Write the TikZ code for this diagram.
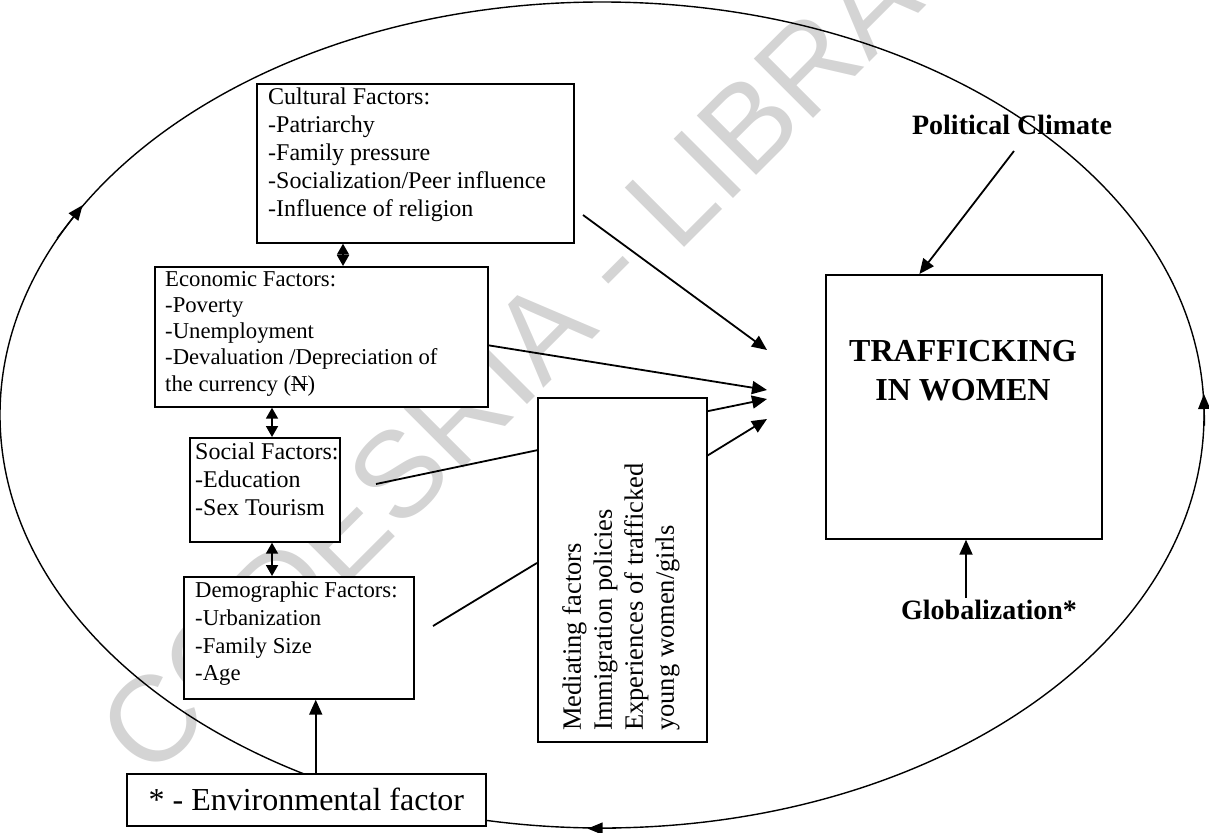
\documentclass[tikz,border=0pt]{standalone}
\usepackage{fontspec}
\setmainfont{Liberation Serif}
\newfontfamily\wmfont{Liberation Sans}
\usetikzlibrary{arrows.meta,calc,shapes.geometric}
\begin{document}
\begin{tikzpicture}[x=1pt,y=-1pt,
  box/.style={draw, line width=1.7pt, fill=white, inner sep=0pt, anchor=north west},
  txt/.style={anchor=north west, inner sep=0pt, align=left, font=\fontsize{22.7}{26.2}\selectfont},
  txtb/.style={txt, font=\fontsize{24}{27.8}\selectfont},
  arr/.style={line width=1.8pt, -{Triangle[length=15pt,width=13pt]}},
  dbl/.style={line width=1.8pt, {Triangle[length=11pt,width=12pt]}-{Triangle[length=11pt,width=12pt]}},
  ln/.style={line width=1.8pt},
  ringhead/.style={line width=1.4pt, -{Triangle[length=15pt,width=12pt]}},
  bold/.style={inner sep=0pt, font=\bfseries\fontsize{28}{32}\selectfont},
  wm/.style={rotate=45, anchor=base west, inner sep=0pt, text=black!17,
    font=\wmfont\fontsize{122}{122}\selectfont}
]
\useasboundingbox (0,0) rectangle (1209,832);

% watermark
\node[wm] (mark) at (150,782) {CODESRIA - LIBRARY};

% surrounding cycle
\node[draw, ellipse, line width=1.4pt, inner sep=0pt,
  minimum width=1204pt, minimum height=826pt] (ring) at (602,415) {};
\draw[ringhead] (ring.162.5) -- (ring.158.5);
\draw[ringhead] (ring.-1) -- (ring.2.2);
\draw[ringhead] (ring.272.5) -- (ring.268);

% factor boxes
\node[box, minimum width=317pt, minimum height=159pt] (cult) at (256,83) {};
\node[txtb] (cultT) at (268,88) {Cultural Factors:\\-Patriarchy\\-Family pressure\\-Socialization/Peer influence\\-Influence of religion};

\node[box, minimum width=333pt, minimum height=140pt] (econ) at (154,266) {};
\node[txt] (econT) at (165,271) {Economic Factors:\\-Poverty\\-Unemployment\\-Devaluation /Depreciation of\\the currency (\rlap{\raisebox{0.25em}{\rule{0.72em}{1.2pt}}}N)};

\node[box, minimum width=150pt, minimum height=104pt] (soc) at (189,437) {};
\node[txtb] (socT) at (195,443) {Social Factors:\\-Education\\-Sex Tourism};

\node[box, minimum width=230pt, minimum height=122pt] (demo) at (183,576) {};
\node[txt, font=\fontsize{22.7}{27.6}\selectfont] (demoT) at (195,582) {Demographic Factors:\\-Urbanization\\-Family Size\\-Age};

\node[box, minimum width=359pt, minimum height=52pt, anchor=north west,
  font=\fontsize{32}{36}\selectfont] (env) at (126,773) {* - Environmental factor};

\node[box, minimum width=169pt, minimum height=344pt] (med) at (537,397) {};
\node[txt, rotate=90, font=\fontsize{26.5}{31}\selectfont] (medT) at (562,731)
  {Mediating factors\\Immigration policies\\Experiences of trafficked\\young women/girls};

\node[box, minimum width=276pt, minimum height=264pt] (traf) at (825,274) {};
\node[anchor=north, inner sep=0pt, align=center, font=\bfseries\fontsize{32}{39}\selectfont]
  (trafT) at (963,340) {TRAFFICKING\\IN WOMEN};

\node[bold] (pol) at (1012,125) {Political Climate};
\node[bold] (glob) at (989,610) {Globalization*};

% double arrows between factor boxes
\coordinate (ce) at (343,254);
\coordinate (es) at (272,420);
\draw[dbl] (ce |- cult.south) -- (ce |- econ.north);
\draw[dbl] (es |- econ.south) -- (es |- soc.north);
\draw[dbl] (es |- soc.south) -- (es |- demo.north);

% environment to demographic
\coordinate (envT) at ($(env.north west)!0.526!(env.north east)$);
\draw[arr] (envT) -- (envT |- demo.south);

% arrows towards trafficking
\coordinate (cS) at (583,215);
\coordinate (cE) at (767,350);
\draw[arr] (cS) -- (cE);
\coordinate (eE) at (767,390);
\draw[arr] ($(econ.north east)!0.56!(econ.south east)$) -- (eE);
\coordinate (sS) at (376,484);
\draw[ln] (sS) -- ($(med.north west)!0.154!(med.south west)$);
\coordinate (dS) at (433,626);
\draw[ln] (dS) -- ($(med.north west)!0.480!(med.south west)$);
\coordinate (m1) at (767,399);
\coordinate (m2) at (767,419);
\draw[arr] ($(med.north east)!0.041!(med.south east)$) -- (m1);
\draw[arr] ($(med.north east)!0.169!(med.south east)$) -- (m2);

% political climate and globalization
\coordinate (pS) at (1014,151);
\draw[arr] (pS) -- ($(traf.north west)!0.34!(traf.north east)$);
\coordinate (gS) at (966,598);
\draw[arr] (gS) -- (gS |- traf.south);
\end{tikzpicture}
\end{document}
